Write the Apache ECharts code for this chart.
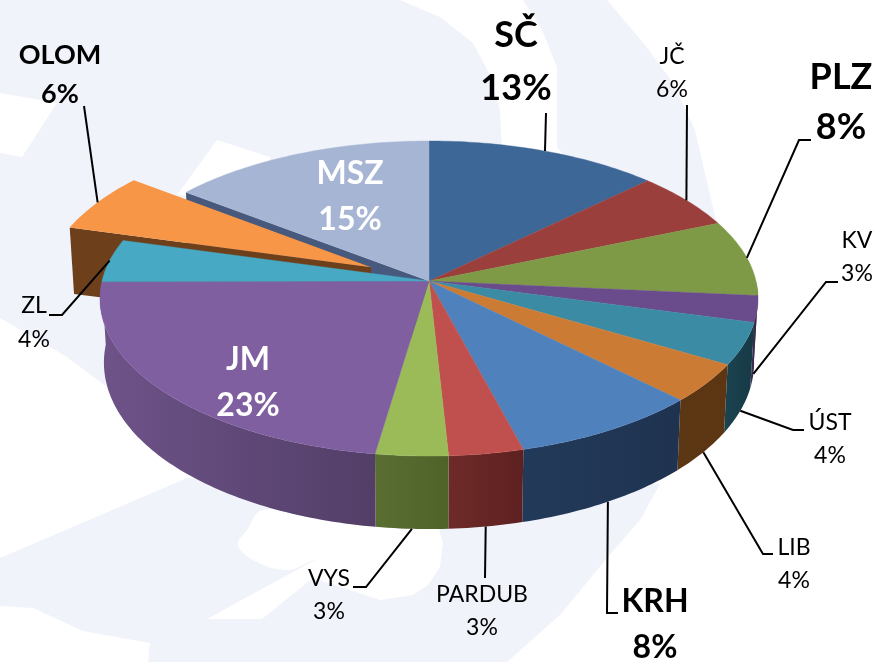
<!DOCTYPE html>
<html><head><meta charset="utf-8">
<style>html,body{margin:0;padding:0;background:#fff}#c{width:878px;height:662px}</style>
<script src="https://cdn.jsdelivr.net/npm/echarts@6/dist/echarts.min.js"></script>
</head><body><div id="c"></div>
<script>
// ---- data ----
const categories = ['SČ','JČ','PLZ','KV','ÚST','LIB','KRH','PARDUB','VYS','JM','ZL','OLOM','MSZ'];
const shares     = [12.8,5.9,7.8,2.7,4.3,4.0,8.4,3.3,3.2,22.6,4.4,6.1,14.6];
// ---- styles ----
const topColors  = ['#3d6797','#9b3f3c','#7f9a46','#6a4c8c','#3b8ba4','#cc7b34','#4f81bd','#c0504d','#9bbb59','#7f5f9f','#47a9c4','#f79646','#a7b5d5'];
const wallLeft   = ['#2a4566','#682a28','#566830','#3f2c55','#1b4350','#5b3714','#223a59','#6e2a29','#5a6e32','#6e5389','#2f7186','#6d3f1a','#475a7d'];
const wallRight  = ['#2a4566','#682a28','#566830','#35264a','#163a46','#5d3513','#1f3350','#5e2120','#4f6329','#523e67','#2f7186','#6d3f1a','#475a7d'];
const explodedIndex = 11;
const explodeBy = 0.2;
// ---- label layout: centre, font size, weight, colour, line height, leader elbow points ----
const labelLayout = {
  'SČ':    {x:516,y:62, size:36,bold:1,lh:53,leader:[[546,113]]},
  'JČ':    {x:672,y:73, size:23,lh:33,leader:[[687,105]]},
  'PLZ':   {x:841,y:102,size:36,bold:1,lh:50,leader:[[799,140],[811,140]]},
  'KV':    {x:857,y:257,size:23,lh:33,leader:[[826,282],[838,282]]},
  'ÚST':   {x:830,y:439,size:23,lh:33,leader:[[793,430],[804,430]]},
  'LIB':   {x:794,y:564,size:23,lh:33,leader:[[763,554],[773,554]]},
  'KRH':   {x:655,y:625,size:32,bold:1,lh:46,leader:[[607,613],[618,613]]},
  'PARDUB':{x:482,y:611,size:23,lh:33,leader:[[485,578]]},
  'VYS':   {x:329,y:595,size:23,lh:33,leader:[[366,587],[353,587]]},
  'ZL':    {x:34, y:323,size:23,lh:34,leader:[[62,315],[49,315]]},
  'OLOM':  {x:60, y:75, size:27,bold:1,lh:39,leader:[[84,106]]},
  'MSZ':   {x:350,y:197,size:32,bold:1,lh:46,color:'#fff'},
  'JM':    {x:248,y:383,size:32,bold:1,lh:46,color:'#fff'}
};
// ---- pie projection constants ----
const CX=429, CY=281, RX=327, SY=155.6, K=1/9, XSHRINK=0.988;
const depth = v => 63 + 10*Math.abs(v);
// ---- watermark ----
const waterColor='#f1f3fb';
const waterShapes=[
 {c:waterColor,p:[[0,0],[400,0],[440,17],[473,43],[490,75],[500,110],[502,150],[500,300],[107,387],[67,357],[33,337],[0,318]]},
 {c:waterColor,p:[[523,0],[607,0],[645,45],[673,83],[695,130],[717,225],[600,200],[557,147],[557,67],[542,30]]},
 {c:waterColor,p:[[0,558],[187,478],[300,480],[660,484],[640,520],[607,558],[560,615],[507,662],[0,662]]},
 {c:'#fff',p:[[0,93],[57,103],[22,157],[0,153]]},
 {c:'#fff',p:[[217,140],[270,157],[270,200],[177,195]]},
 {c:'#fff',p:[[0,606],[33,608],[83,631],[150,643],[148,662],[0,662]]},
 {c:'#fff',s:0.4,p:[[238,545],[247,530],[263,510],[380,510],[380,528],[307,563],[287,570],[257,562]]},
 {c:'#fff',p:[[207,619],[377,526],[437,522],[443,543],[440,567],[428,585],[413,595],[380,600],[350,590],[313,578],[262,619]]}
];

const total = shares.reduce((a,b)=>a+b,0);
const toAngle = s => echarts.number.linearMap(s,[0,total],[0,Math.PI*2],true);
const cumulative=[]; shares.reduce((acc,s,i)=>{cumulative[i]=acc;return acc+s;},0);
const project=(u,v)=>{const d=1-K*v;return [CX+RX*u/d, CY+SY*v/d];};
const sink=(p,v)=>[CX+(p[0]-CX)*XSHRINK, p[1]+depth(v)];

function renderSlice(params){
  const i=params.dataIndex, name=categories[i];
  const a0=toAngle(cumulative[i]), a1=toAngle(cumulative[i]+shares[i]), mid=(a0+a1)/2;
  const ex=i===explodedIndex?explodeBy:0, ox=ex*Math.sin(mid), oy=-ex*Math.cos(mid);
  const world=a=>[ox+Math.sin(a),oy-Math.cos(a)];
  const top=a=>{const w=world(a);return project(w[0],w[1]);};
  const low=a=>{const w=world(a);return sink(project(w[0],w[1]),w[1]);};
  const apex=project(ox,oy), apexLow=sink(apex,oy);
  const steps=Math.max(2,Math.ceil((a1-a0)/(Math.PI/180)));
  const arc=[],arcLow=[],frontTop=[],frontLow=[];
  for(let s=0;s<=steps;s++){
    const a=a0+(a1-a0)*s/steps, t=top(a), b=low(a);
    arc.push(t);arcLow.push(b);
    if(world(a)[1]>=0){frontTop.push(t);frontLow.push(b);}
  }
  const kids=[];
  const grad=new echarts.graphic.LinearGradient(0,0,1,0,[{offset:0,color:wallLeft[i]},{offset:1,color:wallRight[i]}]);
  if(i===explodedIndex){
    kids.push({type:'polygon',z2:2,shape:{points:[apex,arc[0],arcLow[0],apexLow]},style:{fill:wallLeft[i]}});
    kids.push({type:'polygon',z2:3,shape:{points:[apex].concat(arc)},style:{fill:topColors[i]}});
  }else{
    if(i===categories.length-1){
      kids.push({type:'polygon',z2:1,shape:{points:[apex,arc[0],arcLow[0],apexLow]},style:{fill:wallLeft[i]}});
    }
    if(frontTop.length>2){
      kids.push({type:'polygon',z2:4,shape:{points:frontTop.concat(frontLow.slice().reverse())},style:{fill:grad}});
    }
    kids.push({type:'polygon',z2:5,shape:{points:[apex].concat(arc)},style:{fill:topColors[i],stroke:topColors[i],lineWidth:0.4}});
  }
  const L=labelLayout[name];
  if(L.leader){
    const w=world(mid), front=w[1]>0.1 && i!==explodedIndex;
    const start=front?low(mid):top(mid);
    kids.push({type:'polyline',z2:6,shape:{points:[start].concat(L.leader)},style:{fill:'none',stroke:'#000',lineWidth:2}});
  }
  const pct=Math.round(shares[i]/total*100)+'%';
  kids.push({type:'text',z2:7,style:{x:L.x,y:L.y,text:name+'\n'+pct,align:'center',verticalAlign:'middle',
    fill:L.color||'#000',fontFamily:'Lato',fontSize:L.size,fontWeight:L.bold?'bold':'normal',lineHeight:L.lh}});
  return {type:'group',children:kids};
}

const chart=echarts.init(document.getElementById('c'),null,{renderer:'canvas'});
chart.setOption({
  animation:false,
  backgroundColor:'#fff',
  graphic:waterShapes.map((w,n)=>({type:'polygon',silent:true,z:-5,zlevel:0,z2:n,
     shape:{points:w.p,smooth:w.s||0},style:{fill:w.c}})),
  series:[{type:'custom',coordinateSystem:'none',renderItem:renderSlice,
    data:categories.map((c,i)=>({name:c,value:shares[i]})),silent:true}]
});
</script></body></html>
